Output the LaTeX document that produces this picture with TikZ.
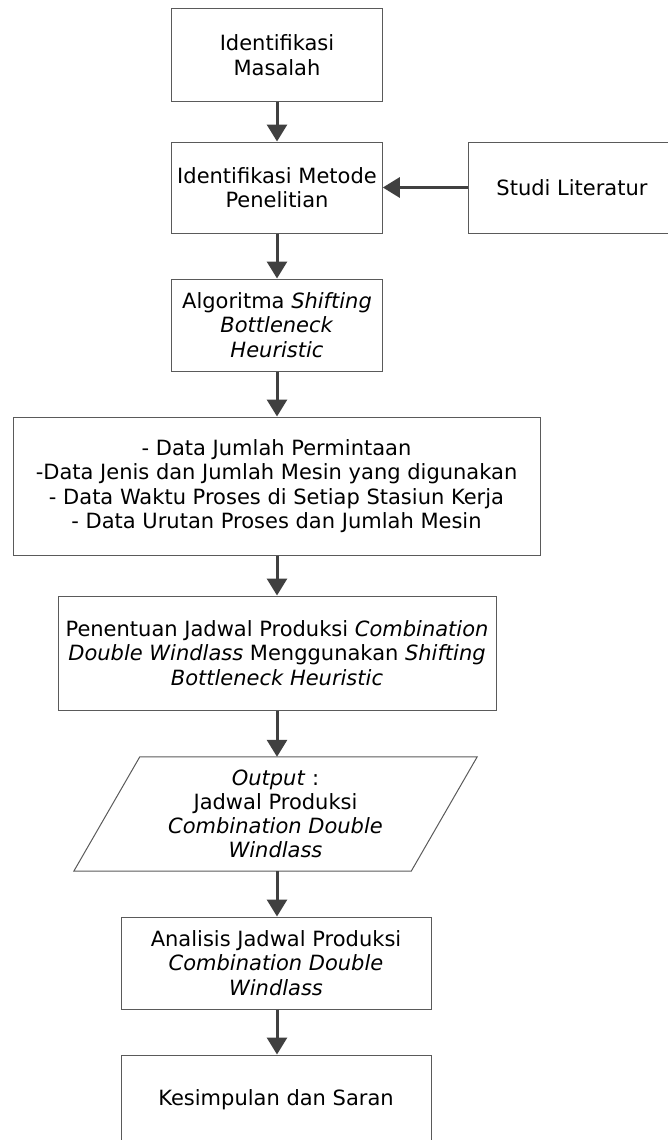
\documentclass[tikz,border=0pt]{standalone}
\usepackage{fontspec}
\setmainfont{DejaVu Sans}
\usetikzlibrary{arrows.meta}
\definecolor{boxline}{HTML}{5A5A5A}
\definecolor{arrowcol}{HTML}{404040}
\tikzset{
  stepbox/.style={draw=boxline, line width=1pt, rectangle, inner sep=0pt, align=center,
    font=\fontsize{21}{24.5}\selectfont},
  plaintext/.style={inner sep=0pt, align=center, font=\fontsize{21}{24}\selectfont},
  flow/.style={draw=arrowcol, line width=3pt, -{Triangle[width=20pt,length=17pt]}}
}
\begin{document}
\begin{tikzpicture}
\useasboundingbox (0pt,0pt) rectangle (667pt,-1140pt);
\node[stepbox, minimum width=210.6pt, minimum height=92pt] (b1) at (277pt,-55pt) {Identifikasi\\Masalah};
\node[stepbox, minimum width=210.6pt, minimum height=91pt] (b2) at (277pt,-187.5pt) {Identifikasi Metode\\Penelitian};
\node[stepbox, minimum width=208pt, minimum height=91pt] (st) at (572pt,-187.5pt) {Studi Literatur};
\node[stepbox, minimum width=210.6pt, minimum height=92pt] (b3) at (277pt,-325pt) {Algoritma \textit{Shifting}\\\textit{Bottleneck}\\\textit{Heuristic}};
\node[stepbox, minimum width=527pt, minimum height=138pt] (b4) at (276.5pt,-486pt) {- Data Jumlah Permintaan\\-Data Jenis dan Jumlah Mesin yang digunakan\\- Data Waktu Proses di Setiap Stasiun Kerja\\- Data Urutan Proses dan Jumlah Mesin};
\node[stepbox, minimum width=438pt, minimum height=114pt] (b5) at (277pt,-653pt) {Penentuan Jadwal Produksi \textit{Combination}\\\textit{Double Windlass} Menggunakan \textit{Shifting}\\\textit{Bottleneck Heuristic}};
\node[plaintext, minimum width=403pt, minimum height=114pt] (b6) at (275.5pt,-814pt) {\textit{Output} :\\Jadwal Produksi\\\textit{Combination Double}\\\textit{Windlass}};
\draw[draw=boxline, line width=1pt] (b6.south west) -- ([xshift=-66pt]b6.south east) -- (b6.north east) -- ([xshift=66pt]b6.north west) -- cycle;
\node[stepbox, minimum width=310pt, minimum height=92pt] (b7) at (276pt,-963pt) {Analisis Jadwal Produksi\\\textit{Combination Double}\\\textit{Windlass}};
\node[stepbox, minimum width=310pt, minimum height=90pt] (b8) at (276pt,-1100pt) {Kesimpulan dan Saran};
\draw[flow] (b1.south) -- (b1.south |- b2.north);
\draw[flow] (st.west |- b2.east) -- (b2.east);
\draw[flow] (b2.south) -- (b2.south |- b3.north);
\draw[flow] (b3.south) -- (b3.south |- b4.north);
\draw[flow] (b3.south |- b4.south) -- (b3.south |- b5.north);
\draw[flow] (b3.south |- b5.south) -- (b3.south |- b6.north);
\draw[flow] (b3.south |- b6.south) -- (b3.south |- b7.north);
\draw[flow] (b3.south |- b7.south) -- (b3.south |- b8.north);
\end{tikzpicture}
\end{document}
